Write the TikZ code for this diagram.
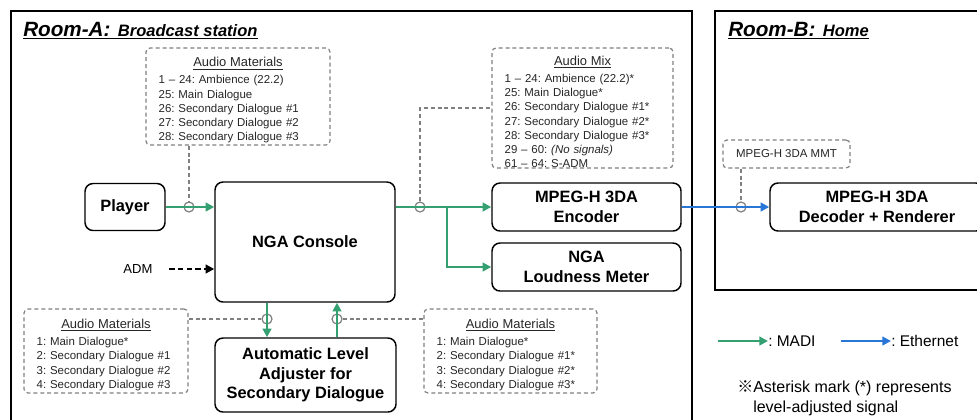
\documentclass[tikz,border=0pt]{standalone}
\usepackage{fontspec}
\setmainfont{Liberation Sans}
\newfontfamily\cjk{Noto Sans CJK JP}
\usetikzlibrary{arrows.meta}
\frenchspacing

\definecolor{madigreen}{RGB}{52,160,114}
\definecolor{ethblue}{RGB}{40,118,214}
\definecolor{memogray}{RGB}{128,128,128}

\newcommand{\memotitle}[1]{\makebox[\linewidth]{\rule{0pt}{13pt}\fontsize{9.7}{10.7}\selectfont\underline{#1}}\\[2pt]}

\begin{document}
\begin{tikzpicture}[
  x=0.75pt, y=-0.75pt,
  room/.style={draw, line width=1.1pt},
  unit/.style={draw, line width=1.1pt, rounded corners=6pt, align=center, inner sep=0pt,
    font=\fontsize{12.3}{14.5}\selectfont\bfseries},
  memo/.style={draw=memogray, line width=0.9pt, dash pattern=on 3pt off 2.2pt,
    rounded corners=3pt, align=left, inner xsep=9.5pt, inner ysep=0pt,
    text=black!85, font=\fontsize{8.6}{10.7}\selectfont},
  tap/.style={circle, draw=memogray, line width=0.9pt, minimum size=7.5pt, inner sep=0pt},
  tag/.style={draw=memogray, line width=0.9pt, dash pattern=on 3pt off 2.2pt},
  madi/.style={draw=madigreen, line width=1.8pt, -{Triangle[length=6.5pt,width=6.5pt]}},
  eth/.style={draw=ethblue, line width=1.8pt, -{Triangle[length=6.5pt,width=6.5pt]}},
  key/.style={anchor=west, inner sep=0pt, font=\fontsize{11.6}{15}\selectfont},
]
  \clip (0,0) rectangle (977,419);

  \draw[room] (11,11) rectangle (692,430);
  \draw[room] (715,11) rectangle (990,290);
  \node[anchor=base west, inner sep=0pt, font=\bfseries\itshape] (titleA) at (23,36)
    {\underline{{\fontsize{15.5}{16}\selectfont Room-A:}\; {\fontsize{12.4}{13}\selectfont Broadcast station}}};
  \node[anchor=base west, inner sep=0pt, font=\bfseries\itshape] (titleB) at (728,36)
    {\underline{{\fontsize{15.5}{16}\selectfont Room-B:}\; {\fontsize{12.4}{13}\selectfont Home}}};

  \node[unit, minimum width=60pt, minimum height=35.25pt] (player) at (125,207) {Player};
  \node[unit, minimum width=135pt, minimum height=90pt] (console) at (305,242) {NGA Console};
  \node[unit, minimum width=141.75pt, minimum height=36pt] (encoder) at (586.5,207) {MPEG-H 3DA\\Encoder};
  \node[unit, minimum width=141.75pt, minimum height=36pt] (meter) at (586.5,267) {NGA\\Loudness Meter};
  \node[unit, minimum width=160.5pt, minimum height=36pt] (decoder) at (877,207) {MPEG-H 3DA\\Decoder + Renderer};
  \node[unit, minimum width=135.75pt, minimum height=55.5pt] (adjuster) at (305.5,375)
    {Automatic Level\\Adjuster for\\Secondary Dialogue};
  \node[font=\fontsize{9.8}{11}\selectfont] (adm) at (138,269) {ADM};

  \node[memo, text width=119pt, minimum height=72.75pt] (matA) at (238,96.5)
    {\memotitle{Audio Materials}
     1 – 24: Ambience (22.2)\\
     25: Main Dialogue\\
     26: Secondary Dialogue \#1\\
     27: Secondary Dialogue \#2\\
     28: Secondary Dialogue \#3};
  \node[memo, text width=116.75pt, minimum height=90pt] (mix) at (582.5,108)
    {\memotitle{Audio Mix}
     1 – 24: Ambience (22.2)*\\
     25: Main Dialogue*\\
     26: Secondary Dialogue \#1*\\
     27: Secondary Dialogue \#2*\\
     28: Secondary Dialogue \#3*\\
     29 – 60: \textit{(No signals)}\\
     61 – 64: S-ADM};
  \node[memo, text width=104pt, minimum height=63pt] (matB) at (106,351)
    {\memotitle{Audio Materials}
     1: Main Dialogue*\\
     2: Secondary Dialogue \#1\\
     3: Secondary Dialogue \#2\\
     4: Secondary Dialogue \#3};
  \node[memo, text width=110.75pt, minimum height=63pt] (matC) at (510.5,351)
    {\memotitle{Audio Materials}
     1: Main Dialogue*\\
     2: Secondary Dialogue \#1*\\
     3: Secondary Dialogue \#2*\\
     4: Secondary Dialogue \#3*};
  \node[memo, align=center, inner xsep=0pt, minimum width=95.25pt, minimum height=21pt] (mmt) at (786.5,154)
    {MPEG-H 3DA MMT};

  \node[tap] (tapP) at (189,207) {};
  \node[tap] (tapO) at (420,207) {};
  \node[tap] (tapE) at (741,207) {};
  \node[tap] (tapD) at (267,319) {};
  \node[tap] (tapU) at (337,319) {};
  \coordinate (split) at (447,207);

  \draw[madi] (player.east) -- (player.east -| console.west);
  \draw[madi] (console.east |- tapO) -- (encoder.west);
  \draw[madi] (split) |- (meter.west);
  \draw[madi] (console.south -| tapD) -- (adjuster.north -| tapD);
  \draw[madi] (adjuster.north -| tapU) -- (console.south -| tapU);
  \draw[eth] (encoder.east) -- (decoder.west);
  \draw[line width=1.6pt, dash pattern=on 4pt off 2.5pt, -{Triangle[length=6.5pt,width=6.5pt]}]
    ([xshift=9pt]adm.east) -- (adm.east -| console.west);

  \draw[tag] (matA.south -| tapP) -- (tapP.north);
  \draw[tag] (tapO.north) |- (mix.west);
  \draw[tag] (mmt.south -| tapE) -- (tapE.north);
  \draw[tag] (matB.east |- tapD) -- (tapD.west);
  \draw[tag] (tapU.east) -- (matC.west |- tapU);

  \node[key] (madikey) at (768,341) {: MADI};
  \node[key] (ethkey) at (891,341) {: Ethernet};
  \coordinate (madifrom) at (718,341);
  \coordinate (ethfrom) at (841,341);
  \draw[madi] (madifrom) -- (madikey.west);
  \draw[eth] (ethfrom) -- (ethkey.west);

  \node[key, align=left, font=\fontsize{12}{15}\selectfont] (note) at (737,398)
    {{\cjk ※}Asterisk mark (*) represents\\\phantom{\cjk ※}level-adjusted signal};
\end{tikzpicture}
\end{document}
